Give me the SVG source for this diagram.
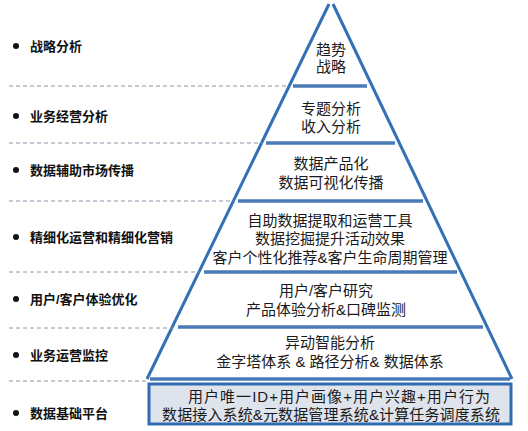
<svg xmlns="http://www.w3.org/2000/svg" width="528" height="431" viewBox="0 0 528 431">
<style>
.lbl{font-family:"Liberation Sans","Noto Sans CJK SC",sans-serif;font-size:13px;font-weight:bold;fill:#111;dominant-baseline:central}
.t{font-family:"Liberation Sans","Noto Sans CJK SC",sans-serif;font-size:15px;fill:#1a1a1a;text-anchor:middle;dominant-baseline:central}
.tb{font-family:"Liberation Sans","Noto Sans CJK SC",sans-serif;font-size:15px;fill:#1a1a1a;text-anchor:middle;dominant-baseline:central}
.dash{stroke:#8796aa;stroke-width:1;stroke-dasharray:4,3;fill:none}
.bar{stroke:#4a7bb8;stroke-width:3.5;fill:none}
.edge{stroke:#3470b4;stroke-width:3;fill:none}
.dot{fill:#111}
</style>
<rect width="528" height="431" fill="#fff"/>
<g id="connectors">
<line class="edge" x1="329" y1="4" x2="147" y2="379"/>
<line class="edge" x1="333" y1="4" x2="512" y2="379"/>
<line class="bar" x1="293" y1="86" x2="367" y2="86"/>
<line class="bar" x1="266" y1="143" x2="395" y2="143"/>
<line class="bar" x1="238" y1="201" x2="423" y2="201"/>
<line class="bar" x1="204" y1="272" x2="457" y2="272"/>
<line class="bar" x1="178" y1="327" x2="483" y2="327"/>
<line class="bar" x1="150" y1="379" x2="510" y2="379"/>
<line class="dash" x1="9" y1="86" x2="288" y2="86"/>
<line class="dash" x1="9" y1="143" x2="262" y2="143"/>
<line class="dash" x1="9" y1="201" x2="234" y2="201"/>
<line class="dash" x1="9" y1="272" x2="199" y2="272"/>
<line class="dash" x1="9" y1="328" x2="173" y2="328"/>
<line class="dash" x1="9" y1="381" x2="147" y2="381"/>
</g>
<g id="label1"><circle class="dot" cx="16" cy="46" r="3"/><text class="lbl" x="30" y="46">战略分析</text></g>
<g id="label2"><circle class="dot" cx="16" cy="116" r="3"/><text class="lbl" x="30" y="116">业务经营分析</text></g>
<g id="label3"><circle class="dot" cx="16" cy="170" r="3"/><text class="lbl" x="30" y="170">数据辅助市场传播</text></g>
<g id="label4"><circle class="dot" cx="16" cy="237" r="3"/><text class="lbl" x="30" y="237">精细化运营和精细化营销</text></g>
<g id="label5"><circle class="dot" cx="16" cy="299" r="3"/><text class="lbl" x="30" y="299">用户/客户体验优化</text></g>
<g id="label6"><circle class="dot" cx="16" cy="355" r="3"/><text class="lbl" x="30" y="355">业务运营监控</text></g>
<g id="label7"><circle class="dot" cx="16" cy="413" r="3"/><text class="lbl" x="30" y="413">数据基础平台</text></g>
<g id="level1"><text class="t" x="331" y="49">趋势</text><text class="t" x="331" y="66">战略</text></g>
<g id="level2"><text class="t" x="331" y="108">专题分析</text><text class="t" x="331" y="126">收入分析</text></g>
<g id="level3"><text class="t" x="331" y="163">数据产品化</text><text class="t" x="331" y="182">数据可视化传播</text></g>
<g id="level4"><text class="t" x="330" y="220">自助数据提取和运营工具</text><text class="t" x="330" y="238">数据挖掘提升活动效果</text><text class="t" x="330" y="257">客户个性化推荐&amp;客户生命周期管理</text></g>
<g id="level5"><text class="t" x="326" y="290">用户/客户研究</text><text class="t" x="326" y="309">产品体验分析&amp;口碑监测</text></g>
<g id="level6"><text class="t" x="330" y="342">异动智能分析</text><text class="t" x="330" y="361">金字塔体系 &amp; 路径分析&amp; 数据体系</text></g>
<g id="level7"><rect x="149" y="384" width="362" height="40" fill="#dfe4ec" stroke="#2f6db3" stroke-width="3"/><text class="tb" x="339" y="396" textLength="302" lengthAdjust="spacing">用户唯一ID+用户画像+用户兴趣+用户行为</text><text class="tb" x="331" y="414" textLength="338" lengthAdjust="spacing">数据接入系统&amp;元数据管理系统&amp;计算任务调度系统</text></g>
</svg>
